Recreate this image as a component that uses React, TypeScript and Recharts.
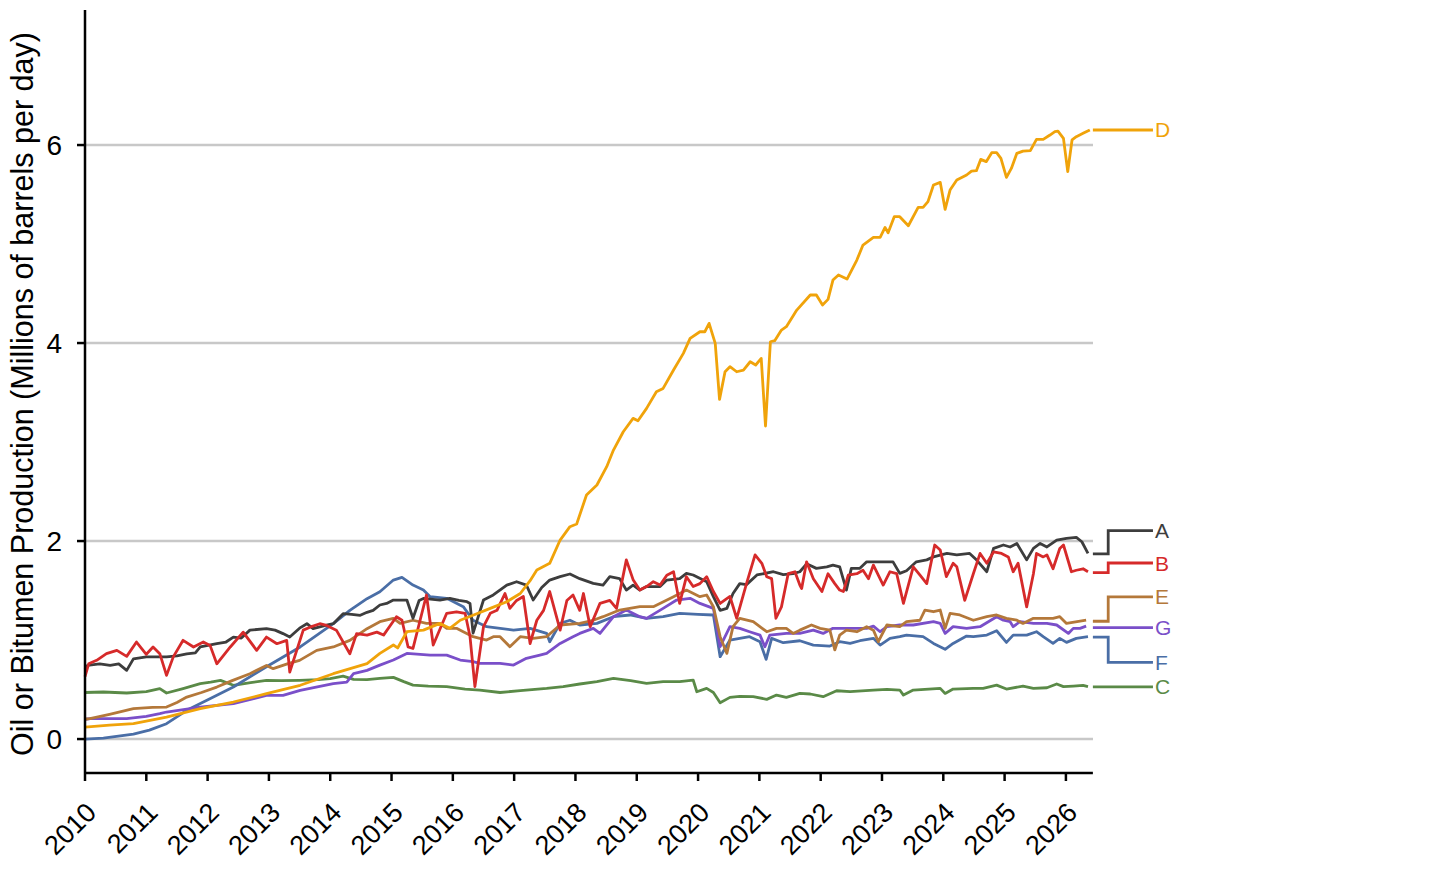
import React from 'react';
import { LineChart, Line, XAxis, YAxis, CartesianGrid, ReferenceLine, LabelList } from 'recharts';

type Pt = [number, number];

const yearTicks = [2010, 2011, 2012, 2013, 2014, 2015, 2016, 2017, 2018, 2019, 2020, 2021, 2022, 2023, 2024, 2025, 2026];
const valueTicks = [0, 2, 4, 6];
const yTitle = 'Oil or Bitumen Production (Millions of barrels per day)';

const seriesA: Pt[] = [
  [2010.0, 0.7], [2010.04, 0.744], [2010.24, 0.76], [2010.41, 0.744], [2010.55, 0.76], [2010.68, 0.694], [2010.79, 0.81],
  [2011.0, 0.83], [2011.17, 0.83], [2011.33, 0.83], [2011.5, 0.84], [2011.66, 0.86], [2011.8, 0.87], [2011.88, 0.93],
  [2012.15, 0.963], [2012.3, 0.98], [2012.42, 1.03], [2012.55, 1.02], [2012.69, 1.1], [2012.96, 1.115], [2013.1, 1.1],
  [2013.23, 1.065], [2013.34, 1.03], [2013.5, 1.12], [2013.62, 1.165], [2013.72, 1.115], [2013.94, 1.15], [2014.05, 1.165],
  [2014.21, 1.266], [2014.35, 1.26], [2014.49, 1.25], [2014.6, 1.28], [2014.7, 1.3], [2014.81, 1.354], [2014.92, 1.37],
  [2015.03, 1.404], [2015.25, 1.404], [2015.35, 1.22], [2015.45, 1.4], [2015.52, 1.42], [2015.79, 1.404], [2015.95, 1.42],
  [2016.1, 1.4], [2016.23, 1.387], [2016.28, 1.37], [2016.33, 1.07], [2016.5, 1.404], [2016.66, 1.455], [2016.88, 1.555],
  [2017.04, 1.589], [2017.2, 1.555], [2017.31, 1.404], [2017.45, 1.53], [2017.58, 1.606], [2017.75, 1.64], [2017.91, 1.667],
  [2018.07, 1.62], [2018.29, 1.572], [2018.45, 1.555], [2018.56, 1.64], [2018.72, 1.62], [2018.83, 1.505], [2018.94, 1.555],
  [2019.05, 1.505], [2019.16, 1.54], [2019.38, 1.54], [2019.49, 1.606], [2019.7, 1.62], [2019.81, 1.673], [2019.92, 1.657],
  [2020.14, 1.589], [2020.25, 1.438], [2020.36, 1.3], [2020.47, 1.32], [2020.57, 1.47], [2020.68, 1.57], [2020.79, 1.56],
  [2020.96, 1.657], [2021.23, 1.69], [2021.39, 1.66], [2021.55, 1.67], [2021.66, 1.69], [2021.77, 1.77], [2021.93, 1.724],
  [2022.1, 1.74], [2022.2, 1.757], [2022.31, 1.74], [2022.42, 1.505], [2022.5, 1.724], [2022.64, 1.724], [2022.75, 1.79],
  [2022.97, 1.79], [2023.18, 1.79], [2023.29, 1.673], [2023.4, 1.7], [2023.56, 1.79], [2023.73, 1.81], [2023.84, 1.84],
  [2024.06, 1.875], [2024.22, 1.86], [2024.43, 1.875], [2024.54, 1.81], [2024.71, 1.69], [2024.82, 1.926], [2024.98, 1.96],
  [2025.09, 1.94], [2025.2, 1.976], [2025.36, 1.81], [2025.47, 1.926], [2025.58, 1.976], [2025.69, 1.94], [2025.85, 2.01],
  [2026.01, 2.027], [2026.17, 2.037], [2026.26, 1.993], [2026.36, 1.875],
];

const seriesB: Pt[] = [
  [2010.0, 0.63], [2010.06, 0.76], [2010.19, 0.795], [2010.35, 0.862], [2010.52, 0.896], [2010.68, 0.835], [2010.84, 0.98],
  [2011.0, 0.856], [2011.11, 0.93], [2011.22, 0.862], [2011.33, 0.643], [2011.44, 0.83], [2011.6, 0.997], [2011.77, 0.93],
  [2011.93, 0.98], [2012.04, 0.946], [2012.15, 0.76], [2012.37, 0.93], [2012.58, 1.08], [2012.8, 0.896], [2012.96, 1.03],
  [2013.13, 0.963], [2013.29, 0.997], [2013.34, 0.677], [2013.56, 1.1], [2013.67, 1.13], [2013.83, 1.165], [2013.94, 1.148],
  [2014.1, 1.1], [2014.32, 0.862], [2014.43, 1.065], [2014.6, 1.05], [2014.76, 1.08], [2014.87, 1.05], [2015.08, 1.235],
  [2015.17, 1.2], [2015.27, 0.93], [2015.35, 0.915], [2015.57, 1.455], [2015.68, 0.95], [2015.9, 1.27], [2016.06, 1.285],
  [2016.2, 1.27], [2016.28, 1.035], [2016.36, 0.53], [2016.5, 1.135], [2016.61, 1.27], [2016.72, 1.3], [2016.85, 1.47],
  [2016.93, 1.32], [2017.04, 1.4], [2017.15, 1.44], [2017.26, 0.965], [2017.37, 1.2], [2017.48, 1.3], [2017.58, 1.49],
  [2017.75, 1.1], [2017.86, 1.4], [2017.96, 1.455], [2018.07, 1.3], [2018.13, 1.47], [2018.24, 1.135], [2018.4, 1.37],
  [2018.56, 1.4], [2018.67, 1.32], [2018.83, 1.81], [2018.94, 1.61], [2019.05, 1.505], [2019.16, 1.54], [2019.27, 1.59],
  [2019.38, 1.555], [2019.49, 1.655], [2019.6, 1.69], [2019.7, 1.37], [2019.81, 1.64], [2019.92, 1.54], [2020.03, 1.57],
  [2020.14, 1.64], [2020.25, 1.49], [2020.36, 1.37], [2020.52, 1.44], [2020.63, 1.22], [2020.79, 1.57], [2020.93, 1.86],
  [2021.04, 1.775], [2021.12, 1.64], [2021.2, 1.62], [2021.27, 1.22], [2021.36, 1.335], [2021.47, 1.67], [2021.58, 1.69],
  [2021.66, 1.555], [2021.69, 1.52], [2021.77, 1.79], [2021.88, 1.62], [2022.02, 1.49], [2022.12, 1.67], [2022.23, 1.57],
  [2022.31, 1.505], [2022.37, 1.49], [2022.45, 1.655], [2022.59, 1.67], [2022.69, 1.705], [2022.78, 1.62], [2022.86, 1.757],
  [2023.02, 1.555], [2023.13, 1.69], [2023.24, 1.67], [2023.35, 1.37], [2023.51, 1.74], [2023.62, 1.655], [2023.73, 1.57],
  [2023.86, 1.96], [2023.95, 1.91], [2024.05, 1.64], [2024.16, 1.775], [2024.22, 1.74], [2024.35, 1.4], [2024.49, 1.67],
  [2024.6, 1.875], [2024.71, 1.775], [2024.82, 1.89], [2024.95, 1.875], [2025.06, 1.84], [2025.14, 1.69], [2025.22, 1.775],
  [2025.36, 1.335], [2025.47, 1.67], [2025.52, 1.875], [2025.63, 1.84], [2025.69, 1.86], [2025.79, 1.72], [2025.9, 1.925],
  [2025.96, 1.96], [2026.09, 1.69], [2026.17, 1.705], [2026.28, 1.72], [2026.36, 1.69],
];

const seriesC: Pt[] = [
  [2010.0, 0.47], [2010.3, 0.475], [2010.68, 0.465], [2011.0, 0.48], [2011.22, 0.51], [2011.33, 0.465], [2011.6, 0.51],
  [2011.88, 0.56], [2012.05, 0.575], [2012.21, 0.593], [2012.42, 0.543], [2012.7, 0.57], [2012.96, 0.593], [2013.2, 0.59],
  [2013.5, 0.593], [2013.8, 0.6], [2014.0, 0.61], [2014.21, 0.636], [2014.38, 0.603], [2014.6, 0.6], [2014.81, 0.613],
  [2015.03, 0.623], [2015.2, 0.58], [2015.35, 0.545], [2015.6, 0.535], [2015.9, 0.53], [2016.2, 0.505], [2016.44, 0.495],
  [2016.77, 0.47], [2017.1, 0.49], [2017.53, 0.512], [2017.8, 0.53], [2018.07, 0.556], [2018.35, 0.58], [2018.62, 0.613],
  [2018.9, 0.59], [2019.16, 0.563], [2019.43, 0.579], [2019.7, 0.58], [2019.92, 0.596], [2019.98, 0.478], [2020.14, 0.512],
  [2020.25, 0.47], [2020.36, 0.367], [2020.52, 0.421], [2020.68, 0.431], [2020.9, 0.428], [2021.12, 0.401], [2021.28, 0.444],
  [2021.44, 0.421], [2021.66, 0.461], [2021.83, 0.455], [2022.04, 0.428], [2022.26, 0.488], [2022.48, 0.478], [2022.86, 0.495],
  [2023.08, 0.502], [2023.29, 0.495], [2023.35, 0.444], [2023.51, 0.495], [2023.95, 0.512], [2024.03, 0.461], [2024.16, 0.505],
  [2024.49, 0.512], [2024.65, 0.512], [2024.87, 0.545], [2025.03, 0.505], [2025.3, 0.535], [2025.47, 0.512], [2025.69, 0.518],
  [2025.85, 0.556], [2025.96, 0.529], [2026.12, 0.535], [2026.28, 0.542], [2026.36, 0.529],
];

const seriesD: Pt[] = [
  [2010.0, 0.12], [2010.4, 0.14], [2010.79, 0.155], [2011.33, 0.222], [2011.88, 0.307], [2012.42, 0.374], [2012.96, 0.458],
  [2013.51, 0.543], [2014.05, 0.66], [2014.6, 0.761], [2014.81, 0.865], [2015.03, 0.95], [2015.1, 0.92], [2015.25, 1.084],
  [2015.52, 1.1], [2015.79, 1.168], [2015.95, 1.118], [2016.12, 1.2], [2016.33, 1.25], [2016.61, 1.32], [2016.88, 1.387],
  [2017.1, 1.47], [2017.26, 1.6], [2017.37, 1.707], [2017.58, 1.775], [2017.75, 2.01], [2017.91, 2.145], [2018.02, 2.172],
  [2018.18, 2.465], [2018.35, 2.566], [2018.51, 2.751], [2018.62, 2.919], [2018.78, 3.104], [2018.94, 3.239], [2019.02, 3.215],
  [2019.16, 3.34], [2019.32, 3.508], [2019.43, 3.542], [2019.6, 3.727], [2019.76, 3.896], [2019.87, 4.047], [2020.03, 4.114],
  [2020.11, 4.114], [2020.18, 4.199], [2020.28, 3.997], [2020.35, 3.431], [2020.44, 3.71], [2020.52, 3.761], [2020.63, 3.71],
  [2020.74, 3.727], [2020.85, 3.811], [2020.94, 3.778], [2021.03, 3.845], [2021.1, 3.162], [2021.18, 4.013], [2021.25, 4.024],
  [2021.36, 4.131], [2021.44, 4.165], [2021.61, 4.333], [2021.83, 4.485], [2021.93, 4.485], [2022.03, 4.384], [2022.12, 4.441],
  [2022.2, 4.636], [2022.29, 4.687], [2022.43, 4.646], [2022.59, 4.838], [2022.69, 4.99], [2022.86, 5.067], [2022.97, 5.067],
  [2023.05, 5.168], [2023.1, 5.114], [2023.2, 5.276], [2023.29, 5.276], [2023.43, 5.185], [2023.59, 5.37], [2023.67, 5.37],
  [2023.75, 5.428], [2023.84, 5.596], [2023.95, 5.623], [2024.03, 5.35], [2024.11, 5.545], [2024.22, 5.646], [2024.38, 5.697],
  [2024.46, 5.737], [2024.54, 5.741], [2024.61, 5.855], [2024.7, 5.832], [2024.79, 5.923], [2024.87, 5.923], [2024.94, 5.865],
  [2025.03, 5.673], [2025.11, 5.764], [2025.2, 5.916], [2025.3, 5.939], [2025.42, 5.943], [2025.52, 6.057], [2025.63, 6.057],
  [2025.74, 6.101], [2025.82, 6.135], [2025.87, 6.141], [2025.96, 6.067], [2026.03, 5.731], [2026.1, 6.051], [2026.17, 6.084],
  [2026.28, 6.118], [2026.39, 6.152],
];

const seriesE: Pt[] = [
  [2010.0, 0.2], [2010.08, 0.206], [2010.4, 0.25], [2010.79, 0.307], [2011.1, 0.32], [2011.33, 0.323], [2011.5, 0.37],
  [2011.66, 0.424], [2011.9, 0.47], [2012.15, 0.525], [2012.4, 0.59], [2012.69, 0.66], [2012.96, 0.744], [2013.07, 0.711],
  [2013.3, 0.76], [2013.5, 0.795], [2013.78, 0.896], [2014.05, 0.93], [2014.32, 0.997], [2014.6, 1.115], [2014.81, 1.185],
  [2015.03, 1.219], [2015.14, 1.168], [2015.35, 1.2], [2015.57, 1.168], [2015.79, 1.168], [2015.9, 1.118], [2016.06, 1.118],
  [2016.17, 1.084], [2016.33, 1.034], [2016.55, 1.0], [2016.66, 1.034], [2016.77, 1.034], [2016.93, 0.933], [2017.1, 1.034],
  [2017.31, 1.017], [2017.53, 1.034], [2017.75, 1.152], [2018.07, 1.168], [2018.29, 1.2], [2018.45, 1.236], [2018.72, 1.303],
  [2019.05, 1.337], [2019.27, 1.337], [2019.6, 1.438], [2019.81, 1.505], [2020.03, 1.438], [2020.14, 1.455], [2020.25, 1.337],
  [2020.36, 1.034], [2020.47, 0.865], [2020.57, 1.135], [2020.68, 1.219], [2020.9, 1.185], [2021.12, 1.084], [2021.28, 1.118],
  [2021.44, 1.118], [2021.55, 1.067], [2021.66, 1.1], [2021.85, 1.152], [2021.99, 1.118], [2022.15, 1.1], [2022.23, 0.9],
  [2022.31, 1.05], [2022.42, 1.1], [2022.59, 1.084], [2022.75, 1.135], [2022.86, 1.1], [2022.94, 0.983], [2023.08, 1.152],
  [2023.29, 1.135], [2023.4, 1.185], [2023.62, 1.2], [2023.7, 1.303], [2023.84, 1.286], [2023.95, 1.303], [2024.03, 1.118],
  [2024.11, 1.27], [2024.27, 1.253], [2024.49, 1.2], [2024.71, 1.236], [2024.87, 1.253], [2025.03, 1.219], [2025.2, 1.2],
  [2025.3, 1.168], [2025.47, 1.219], [2025.79, 1.219], [2025.9, 1.236], [2026.01, 1.168], [2026.33, 1.2],
];

const seriesF: Pt[] = [
  [2010.0, 0.0], [2010.3, 0.01], [2010.79, 0.05], [2011.05, 0.09], [2011.33, 0.155], [2011.66, 0.29], [2011.98, 0.39],
  [2012.42, 0.525], [2012.96, 0.73], [2013.51, 0.93], [2014.05, 1.165], [2014.32, 1.3], [2014.6, 1.418], [2014.81, 1.488],
  [2015.03, 1.606], [2015.17, 1.633], [2015.35, 1.555], [2015.52, 1.505], [2015.63, 1.438], [2015.9, 1.421], [2016.17, 1.337],
  [2016.33, 1.2], [2016.55, 1.135], [2016.99, 1.1], [2017.26, 1.118], [2017.53, 1.067], [2017.58, 0.983], [2017.75, 1.168],
  [2017.91, 1.2], [2018.07, 1.152], [2018.35, 1.168], [2018.62, 1.236], [2018.89, 1.253], [2019.16, 1.219], [2019.43, 1.236],
  [2019.7, 1.27], [2020.0, 1.26], [2020.25, 1.253], [2020.36, 0.832], [2020.52, 1.0], [2020.68, 1.017], [2020.84, 1.034],
  [2021.01, 0.983], [2021.11, 0.805], [2021.2, 1.017], [2021.39, 0.973], [2021.66, 0.993], [2021.88, 0.949], [2022.15, 0.939],
  [2022.31, 0.983], [2022.48, 0.966], [2022.64, 0.993], [2022.86, 1.017], [2022.97, 0.949], [2023.13, 1.017], [2023.29, 1.034],
  [2023.4, 1.05], [2023.67, 1.034], [2023.84, 0.966], [2024.03, 0.906], [2024.16, 0.966], [2024.38, 1.04], [2024.49, 1.034],
  [2024.71, 1.05], [2024.87, 1.094], [2025.03, 0.976], [2025.14, 1.05], [2025.36, 1.05], [2025.52, 1.084], [2025.63, 1.034],
  [2025.79, 0.966], [2025.9, 1.017], [2026.01, 0.976], [2026.17, 1.017], [2026.36, 1.034],
];

const seriesG: Pt[] = [
  [2010.0, 0.2], [2010.08, 0.206], [2010.68, 0.206], [2011.0, 0.23], [2011.22, 0.256], [2011.33, 0.273], [2011.88, 0.323],
  [2012.42, 0.357], [2012.96, 0.441], [2013.23, 0.441], [2013.51, 0.492], [2014.05, 0.559], [2014.27, 0.576], [2014.38, 0.66],
  [2014.6, 0.694], [2014.81, 0.747], [2015.03, 0.798], [2015.25, 0.865], [2015.63, 0.848], [2015.9, 0.848], [2016.12, 0.798],
  [2016.33, 0.781], [2016.44, 0.764], [2016.77, 0.764], [2016.99, 0.747], [2017.2, 0.815], [2017.42, 0.848], [2017.53, 0.865],
  [2017.75, 0.966], [2017.96, 1.034], [2018.07, 1.067], [2018.29, 1.118], [2018.4, 1.067], [2018.62, 1.236], [2018.83, 1.303],
  [2019.05, 1.236], [2019.16, 1.219], [2019.43, 1.32], [2019.65, 1.404], [2019.87, 1.421], [2020.03, 1.37], [2020.25, 1.32],
  [2020.36, 0.933], [2020.52, 1.135], [2020.68, 1.118], [2020.84, 1.084], [2021.01, 1.05], [2021.09, 0.933], [2021.17, 1.05],
  [2021.44, 1.067], [2021.66, 1.067], [2021.88, 1.1], [2022.04, 1.067], [2022.2, 1.118], [2022.48, 1.118], [2022.75, 1.118],
  [2022.86, 1.141], [2022.97, 1.084], [2023.08, 1.135], [2023.29, 1.152], [2023.51, 1.152], [2023.84, 1.185], [2023.95, 1.168],
  [2024.03, 1.067], [2024.16, 1.135], [2024.38, 1.118], [2024.6, 1.135], [2024.87, 1.236], [2024.98, 1.2], [2025.09, 1.185],
  [2025.14, 1.135], [2025.25, 1.185], [2025.47, 1.168], [2025.69, 1.168], [2025.85, 1.152], [2026.04, 1.067], [2026.12, 1.118],
  [2026.23, 1.118], [2026.33, 1.141],
];

// end-of-line labels: value where each connector starts, and value where the label sits
const labelNames = ['A', 'B', 'C', 'D', 'E', 'F', 'G'];
const connectorStart = [1.87, 1.68, 0.527, 6.152, 1.19, 1.03, 1.125];
const labelLevel = [2.105, 1.778, 0.527, 6.152, 1.437, 0.775, 1.125];
const connectorYears = [2026.44, 2026.69, 2027.42];

const FONT = '"Liberation Sans", Arial, Helvetica, sans-serif';
const COLORS: Record<string, string> = {
  A: '#3d3d3d',
  B: '#d62a2a',
  C: '#5a8a47',
  D: '#f0a30a',
  E: '#b4783a',
  F: '#4a6ea6',
  G: '#7a4fc9',
};

const SERIES: { name: string; pts: Pt[] }[] = [
  { name: 'C', pts: seriesC },
  { name: 'F', pts: seriesF },
  { name: 'G', pts: seriesG },
  { name: 'E', pts: seriesE },
  { name: 'A', pts: seriesA },
  { name: 'B', pts: seriesB },
  { name: 'D', pts: seriesD },
];

const toRows = (pts: Pt[]) => pts.map(([t, v]) => ({ t, v }));

const connectorRows = (i: number) => [
  { t: connectorYears[0], v: connectorStart[i] },
  { t: connectorYears[1], v: connectorStart[i] },
  { t: connectorYears[1], v: labelLevel[i] },
  { t: connectorYears[2], v: labelLevel[i] },
];

const XTick = (props: any) => {
  const { x, y, payload } = props;
  const ax = x + 13;
  const ay = y + 33;
  return (
    <text
      x={ax}
      y={ay}
      transform={`rotate(-45, ${ax}, ${ay})`}
      textAnchor="end"
      fontSize={27}
      fontFamily={FONT}
      fill="#000"
    >
      {payload.value}
    </text>
  );
};

const YTick = (props: any) => {
  const { x, y, payload } = props;
  return (
    <text x={x} y={y} dy={10} textAnchor="end" fontSize={28} fontFamily={FONT} fill="#000">
      {payload.value}
    </text>
  );
};

const YTitle = () => (
  <text
    x={33}
    y={386}
    transform="rotate(-90, 33, 386)"
    textAnchor="middle"
    fontSize={30.5}
    fontFamily={FONT}
    fill="#000"
  >
    {yTitle}
  </text>
);

export default function App() {
  return (
    <div style={{ width: 1448, height: 858, marginLeft: -8, marginBottom: -8, background: '#fff' }}>
      <LineChart width={1448} height={858} margin={{ top: 2, right: 284, bottom: 0, left: 8 }}>
        <CartesianGrid
          vertical={false}
          stroke="#c8c8c8"
          strokeWidth={2.5}
          x={85}
          width={1008}
          horizontalValues={valueTicks}
        />
        <XAxis
          type="number"
          dataKey="t"
          domain={[2010, 2027.6]}
          ticks={yearTicks}
          interval={0}
          height={93}
          axisLine={false}
          tickSize={8}
          tickMargin={0}
          tickLine={{ stroke: '#000', strokeWidth: 2.5 }}
          tick={<XTick />}
        />
        <YAxis
          type="number"
          dataKey="v"
          domain={[-0.343, 7.364]}
          ticks={valueTicks}
          interval={0}
          width={77}
          tickSize={8}
          tickMargin={15}
          axisLine={{ stroke: '#000', strokeWidth: 2.5 }}
          tickLine={{ stroke: '#000', strokeWidth: 2.5 }}
          tick={<YTick />}
          label={<YTitle />}
        />
        <ReferenceLine
          segment={[{ x: 2010, y: -0.343 }, { x: 2026.44, y: -0.343 }]}
          stroke="#000"
          strokeWidth={2.5}
          ifOverflow="visible"
        />
        {SERIES.map((s) => (
          <Line
            key={s.name}
            data={toRows(s.pts)}
            dataKey="v"
            type="linear"
            stroke={COLORS[s.name]}
            strokeWidth={2.8}
            strokeLinejoin="round"
            dot={false}
            activeDot={false}
            isAnimationActive={false}
          />
        ))}
        {labelNames.map((n, i) => (
          <Line
            key={'conn-' + n}
            data={connectorRows(i)}
            dataKey="v"
            type="linear"
            stroke={COLORS[n]}
            strokeWidth={2.8}
            dot={false}
            activeDot={false}
            isAnimationActive={false}
          >
            <LabelList
              dataKey="v"
              content={(p: any) =>
                p.index === 3 ? (
                  <text
                    x={p.x + 2}
                    y={p.y}
                    dy={7.5}
                    fill={COLORS[n]}
                    fontSize={21}
                    fontFamily={FONT}
                  >
                    {n}
                  </text>
                ) : null
              }
            />
          </Line>
        ))}
      </LineChart>
    </div>
  );
}
